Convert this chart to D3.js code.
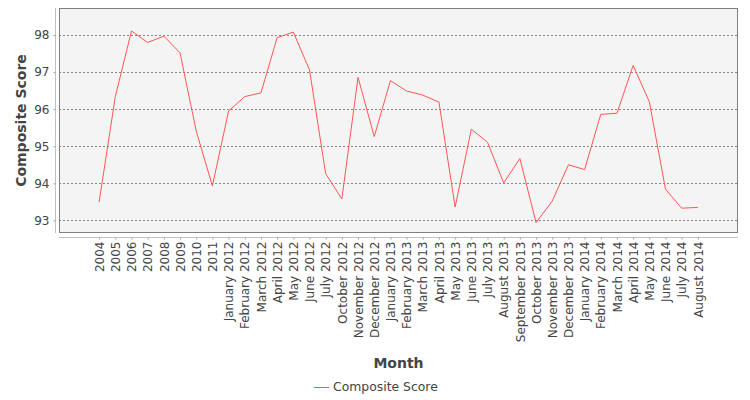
<!DOCTYPE html>
<html>
<head>
<meta charset="utf-8">
<script src="https://cdn.jsdelivr.net/npm/d3@7"></script>
<style>
  html, body { margin: 0; padding: 0; background: #ffffff; }
  svg { display: block; }
  text { font-family: "DejaVu Sans", sans-serif; fill: #444444; }
</style>
</head>
<body>
<svg id="chart" width="750" height="400"></svg>
<script>
const categories = [
  "2004", "2005", "2006", "2007", "2008", "2009", "2010", "2011",
  "January 2012", "February 2012", "March 2012", "April 2012", "May 2012", "June 2012", "July 2012",
  "October 2012", "November 2012", "December 2012",
  "January 2013", "February 2013", "March 2013", "April 2013", "May 2013", "June 2013", "July 2013",
  "August 2013", "September 2013", "October 2013", "November 2013", "December 2013",
  "January 2014", "February 2014", "March 2014", "April 2014", "May 2014", "June 2014", "July 2014", "August 2014"
];
const compositeScore = [
  93.50, 96.34, 98.11, 97.80, 97.97, 97.52, 95.41, 93.93,
  95.95, 96.34, 96.44, 97.93, 98.08, 97.06, 94.26,
  93.58, 96.86, 95.26,
  96.77, 96.49, 96.38, 96.19, 93.36, 95.46, 95.11,
  94.01, 94.67, 92.94, 93.52, 94.50,
  94.37, 95.86, 95.89, 97.18, 96.20, 93.84, 93.33, 93.35
];
const yTicks = [93, 94, 95, 96, 97, 98];
const seriesName = "Composite Score";
const xTitle = "Month";
const yTitle = "Composite Score";

const svg = d3.select("#chart");
const plot = { left: 59, top: 8, right: 738, bottom: 233 };

const x = d3.scalePoint()
  .domain(categories)
  .range([plot.left, plot.right])
  .padding(2.48);

const y = d3.scaleLinear()
  .domain([92.66, 98.73])
  .range([plot.bottom, plot.top]);

// plot background
svg.append("rect")
  .attr("x", plot.left).attr("y", plot.top)
  .attr("width", plot.right - plot.left).attr("height", plot.bottom - plot.top)
  .attr("fill", "#f4f4f4");

// gridlines
svg.append("g").selectAll("line")
  .data(yTicks).join("line")
  .attr("x1", plot.left).attr("x2", plot.right)
  .attr("y1", d => Math.round(y(d)) + 0.5).attr("y2", d => Math.round(y(d)) + 0.5)
  .attr("stroke", "#888888").attr("stroke-width", 1)
  .attr("stroke-dasharray", "2,2");

// plot border
svg.append("rect")
  .attr("x", plot.left + 0.5).attr("y", plot.top + 0.5)
  .attr("width", plot.right - plot.left - 1).attr("height", plot.bottom - plot.top - 1)
  .attr("fill", "none").attr("stroke", "#808080").attr("stroke-width", 1);

// y axis
const yAxis = d3.axisLeft(y).tickValues(yTicks).tickSize(2).tickPadding(4).tickFormat(d3.format("d"));
const gy = svg.append("g").attr("transform", "translate(55.5,0)").call(yAxis);
gy.select(".domain").attr("stroke", "#c0c0c0").attr("d", `M0,${plot.top}V${plot.bottom}`);
gy.selectAll(".tick line").attr("stroke", "#a0a0a0");
gy.selectAll(".tick text").attr("font-size", 12).attr("fill", "#444444")
  .attr("font-family", "DejaVu Sans, sans-serif");

// x axis
const xAxis = d3.axisBottom(x).tickSize(2).tickPadding(3);
const gx = svg.append("g").attr("transform", "translate(0,237.5)").call(xAxis);
gx.select(".domain").attr("stroke", "#c0c0c0").attr("d", `M${plot.left},0H${plot.right}`);
gx.selectAll(".tick line").attr("stroke", "#a0a0a0");
gx.selectAll(".tick text")
  .attr("font-size", 12).attr("fill", "#444444")
  .attr("font-family", "DejaVu Sans, sans-serif")
  .attr("transform", "rotate(-90)")
  .attr("text-anchor", "end")
  .attr("x", -4).attr("y", 0).attr("dy", "0.35em");

// line
const line = d3.line()
  .x((d, i) => x(categories[i]))
  .y(d => y(d));
svg.append("path")
  .datum(compositeScore)
  .attr("d", line)
  .attr("fill", "none")
  .attr("stroke", "#ff5555")
  .attr("stroke-width", 1);

// axis titles
svg.append("text")
  .attr("transform", `translate(26,${(plot.top + plot.bottom) / 2}) rotate(-90)`)
  .attr("text-anchor", "middle")
  .attr("font-size", 14).attr("font-weight", "bold")
  .text(yTitle);

svg.append("text")
  .attr("x", (plot.left + plot.right) / 2).attr("y", 368)
  .attr("text-anchor", "middle")
  .attr("font-size", 14).attr("font-weight", "bold")
  .text(xTitle);

// legend
const lg = svg.append("g").attr("transform", "translate(314,387)");
lg.append("line").attr("x1", 0).attr("x2", 15).attr("y1", 0.5).attr("y2", 0.5)
  .attr("stroke", "#ff5555").attr("stroke-width", 1);
lg.append("text").attr("x", 19).attr("y", 0).attr("dy", "0.35em")
  .attr("font-size", 12.4).text(seriesName);
</script>
</body>
</html>
